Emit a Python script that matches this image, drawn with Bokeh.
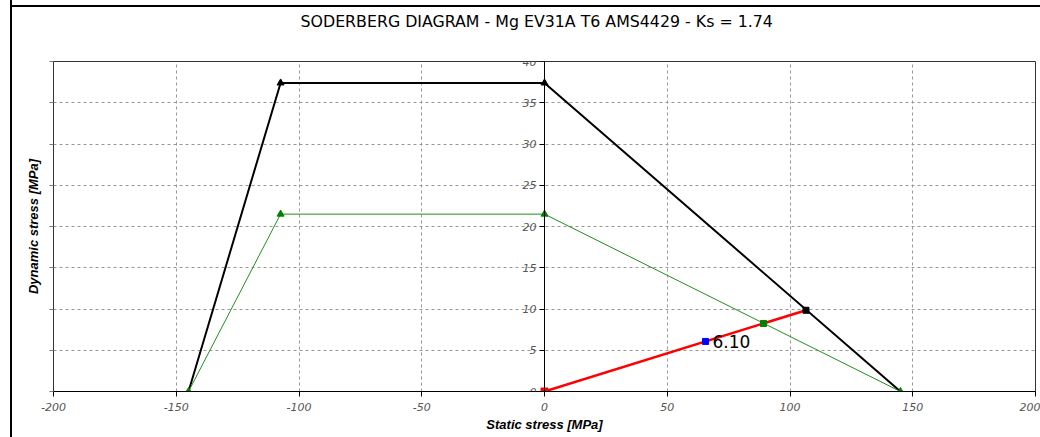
from bokeh.plotting import figure
from bokeh.models import LinearAxis, Label, FixedTicker, Range1d, InlineStyleSheet, Title
from bokeh.embed import file_html
from bokeh.resources import INLINE

# ---- data ----
title_text = "SODERBERG DIAGRAM - Mg EV31A T6 AMS4429 - Ks = 1.74"
x_ticks = [-200, -150, -100, -50, 0, 50, 100, 150, 200]
y_ticks = [0, 5, 10, 15, 20, 25, 30, 35, 40]

limit_x = [-145, -107.5, 0, 145]          # Soderberg limit (black)
limit_y = [0, 37.4, 37.4, 0]
safe_x = [-145, -107.5, 0, 145]           # limit / Ks (green)
safe_y = [0, 21.5, 21.5, 0]
load_x = [0, 106.5]                       # load line (red)
load_y = [0, 9.85]
pt_limit = (106.5, 9.85)
pt_safe = (89.2, 8.25)
pt_work = (65.6, 6.07)
work_label = "6.10"

TICK_FONT = "DejaVu Sans"
LABEL_FONT = "Liberation Sans"

p = figure(width=1040, height=437, output_backend="svg", toolbar_location=None,
           x_range=Range1d(-200, 200), y_range=Range1d(0, 40),
           min_border_left=53, min_border_right=5, min_border_top=61, min_border_bottom=46,
           x_axis_label="Static stress [MPa]", y_axis_label="Dynamic stress [MPa]",
           title=title_text)
p.background_fill_color = "white"
p.border_fill_color = "white"
p.outline_line_color = "#333333"
p.outline_line_width = 1

p.title.align = "left"
p.title.offset = 247
p.title.text_font = TICK_FONT
p.title.text_font_size = "15.8px"
p.title.text_font_style = "normal"
p.title.text_color = "black"
p.title.standoff = 0

# blank spacer between the title and the plot frame
p.add_layout(Title(text=" ", text_font_size="1px", standoff=28), "above")

# grids
p.xgrid.ticker = FixedTicker(ticks=[-150, -100, -50, 50, 100, 150])
p.ygrid.ticker = FixedTicker(ticks=[5, 10, 15, 20, 25, 30, 35])
for g in (p.xgrid, p.ygrid):
    g.grid_line_color = "#999999"
    g.grid_line_dash = "3 3"
    g.grid_line_width = 1

# bottom axis
xa = p.xaxis[0]
xa.ticker = FixedTicker(ticks=x_ticks)
xa.major_label_overrides = {t: str(t) for t in x_ticks}
xa.axis_line_color = "black"
xa.major_tick_line_color = "black"
xa.major_tick_out = 5
xa.major_tick_in = 0
xa.minor_tick_out = 0
xa.minor_tick_in = 0
xa.major_label_text_font = TICK_FONT
xa.major_label_text_font_style = "italic"
xa.major_label_text_font_size = "11px"
xa.major_label_text_color = "#555555"
xa.major_label_standoff = 6
xa.axis_label_text_font = LABEL_FONT
xa.axis_label_text_font_style = "bold italic"
xa.axis_label_text_font_size = "13px"
xa.axis_label_text_color = "black"
xa.axis_label_standoff = 3

# left border axis (label only)
ya = p.yaxis[0]
ya.ticker = FixedTicker(ticks=y_ticks)
ya.major_label_overrides = {t: "" for t in y_ticks}
ya.axis_line_color = "#333333"
ya.major_tick_line_color = "#777777"
ya.major_tick_out = 4
ya.major_tick_in = 0
ya.minor_tick_out = 0
ya.minor_tick_in = 0
ya.major_label_standoff = 0
ya.axis_label_text_font = LABEL_FONT
ya.axis_label_text_font_style = "bold italic"
ya.axis_label_text_font_size = "13px"
ya.axis_label_text_color = "black"
ya.axis_label_standoff = 9

# y axis through x = 0
ym = LinearAxis(fixed_location=0, ticker=FixedTicker(ticks=y_ticks))
ym.major_label_overrides = {t: str(t) for t in y_ticks}
ym.axis_line_color = "black"
ym.major_tick_line_color = "black"
ym.major_tick_out = 5
ym.major_tick_in = 0
ym.minor_tick_out = 0
ym.minor_tick_in = 0
ym.major_label_text_font = TICK_FONT
ym.major_label_text_font_style = "italic"
ym.major_label_text_font_size = "11px"
ym.major_label_text_color = "#555555"
ym.major_label_standoff = 3
p.add_layout(ym, "left")

# curves
p.line(limit_x, limit_y, line_color="black", line_width=2)
p.line(safe_x, safe_y, line_color="#1f8f1f", line_width=1)
p.line(load_x, load_y, line_color="#ff0000", line_width=2.5)

p.scatter(limit_x[1:3], limit_y[1:3], marker="triangle", size=7,
          fill_color="black", line_color="black")
p.scatter(safe_x, safe_y, marker="triangle", size=7,
          fill_color="#008000", line_color="#008000")
p.scatter([load_x[0]], [load_y[0]], marker="square", size=7,
          fill_color="#ff0000", line_color="#ff0000")
p.scatter([pt_limit[0]], [pt_limit[1]], marker="square", size=6,
          fill_color="black", line_color="black")
p.scatter([pt_safe[0]], [pt_safe[1]], marker="square", size=6,
          fill_color="#008000", line_color="#008000")
p.scatter([pt_work[0]], [pt_work[1]], marker="square", size=6,
          fill_color="#0000ff", line_color="#0000ff")

p.add_layout(Label(x=pt_work[0], y=pt_work[1], text=work_label, x_offset=7,
                   text_baseline="middle", text_font=TICK_FONT,
                   text_font_size="17px", text_color="black"))

# outer frame lines of the original window (decoration)
p.stylesheets = [InlineStyleSheet(css="""
:host::before { content: ""; position: absolute; left: 10px; top: 0px; width: 2px;
                height: 437px; background: #000; z-index: 10; pointer-events: none; }
:host::after  { content: ""; position: absolute; left: 10px; top: 5px; width: 1030px;
                height: 2px; background: #000; z-index: 10; pointer-events: none; }
""")]

open("out.html", "w").write(file_html(p, INLINE))
